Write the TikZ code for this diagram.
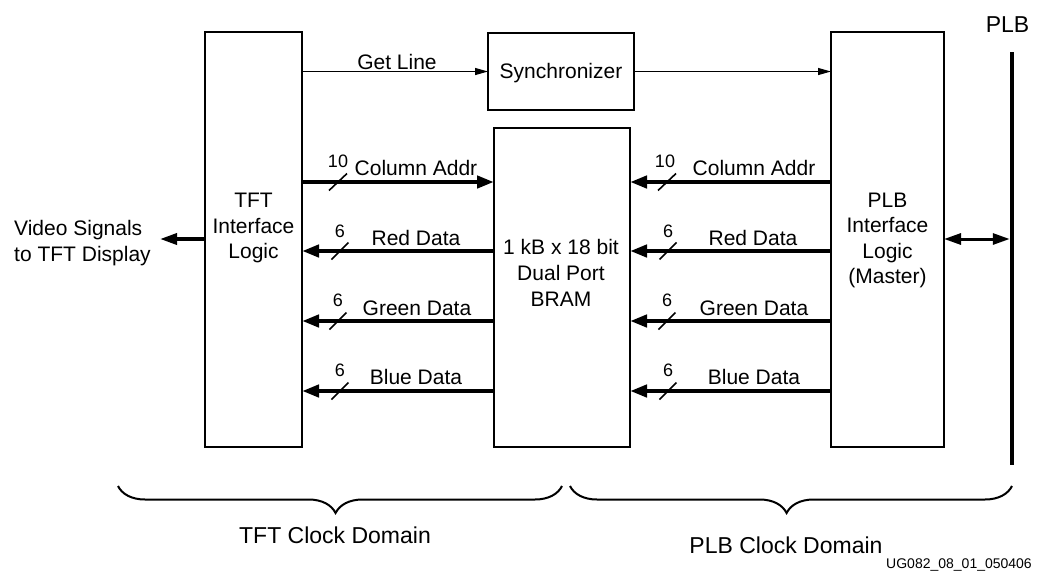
\documentclass[tikz,border=0pt]{standalone}
\usepackage{fontspec}
\setmainfont{Liberation Sans}
\usetikzlibrary{arrows.meta,decorations.pathreplacing}
\newcommand\cs{\rule[-0.25em]{0pt}{1.216em}}
\begin{document}
\begin{tikzpicture}[x=1pt,y=-1pt,
  box/.style={draw, line width=2pt, inner sep=0pt, outer sep=0pt, anchor=north west},
  txt/.style={inner sep=0pt, align=center, font=\fontsize{21}{25.6}\selectfont},
  num/.style={inner sep=0pt, font=\fontsize{18}{20}\selectfont},
  big/.style={inner sep=0pt, font=\fontsize{23}{26}\selectfont},
  tiny/.style={inner sep=0pt, font=\fontsize{14}{16}\selectfont},
  thin arrow/.style={line width=1.2pt, -{Triangle[length=13pt,width=7pt]}},
  fat arrow/.style={line width=4.2pt, -{Triangle[length=17pt,width=12pt]}},
  slashmark/.style={line width=1.6pt},
  brace/.style={line width=2pt, decorate, decoration={brace, amplitude=27pt, aspect=0.51}}
]
\useasboundingbox (0,0) rectangle (1042,574);

% boxes
\node[box, minimum width=97pt, minimum height=415pt] (tft) at (205,32) {};
\node[box, minimum width=146pt, minimum height=77pt] (sync) at (488,33) {};
\node[box, minimum width=136pt, minimum height=319pt] (bram) at (494,128) {};
\node[box, minimum width=113pt, minimum height=415pt] (plb) at (831,32) {};

% box texts
\node[txt] (tfttxt) at (253.5,225.5) {\cs TFT\\\cs Interface\\\cs Logic};
\node[txt] (synctxt) at (561,71) {\cs Synchronizer};
\node[txt] (bramtxt) at (561,273) {\cs 1 kB x 18 bit\\\cs Dual Port\\\cs BRAM};
\node[txt] (plbtxt) at (887.5,238) {\cs PLB\\\cs Interface\\\cs Logic\\\cs (Master)};
\node[txt, anchor=west, align=left] (vidtxt) at (14,241) {\cs Video Signals\\\cs to TFT Display};
\node[big] (plblabel) at (1007.5,24.5) {\cs PLB};

% bus
\coordinate (busT) at (1012,52);
\coordinate (busB) at (1012,465);
\draw[line width=4.5pt] (busT) -- (busB);

% control arrows
\draw[thin arrow] (tft.east |- sync.west) -- (sync.west);
\draw[thin arrow] (sync.east) -- (sync.east -| plb.west);
\node[txt] (getline) at (397,62) {\cs Get Line};

% column addr
\draw[fat arrow] (tft.east |- 0,182) -- (bram.west |- 0,182);
\draw[fat arrow] (plb.west |- 0,182) -- (bram.east |- 0,182);
\node[txt] (colL) at (416,168) {\cs Column Addr};
\node[txt] (colR) at (754,168) {\cs Column Addr};
\node[num] (nColL) at (338,161) {\cs 10};
\node[num] (nColR) at (665,161) {\cs 10};
\draw[slashmark] (338,182) ++(-9,8.5) -- ++(18,-17);
\draw[slashmark] (667,182) ++(-9,8.5) -- ++(18,-17);

% red
\draw[fat arrow] (bram.west |- 0,251) -- (tft.east |- 0,251);
\draw[fat arrow] (plb.west |- 0,251) -- (bram.east |- 0,251);
\node[txt] (redL) at (416,238) {\cs Red Data};
\node[txt] (redR) at (753,238) {\cs Red Data};
\node[num] (nRedL) at (340,231) {\cs 6};
\node[num] (nRedR) at (668,231) {\cs 6};
\draw[slashmark] (340,251) ++(-8.5,8.5) -- ++(17,-17);
\draw[slashmark] (668,251) ++(-8.5,8.5) -- ++(17,-17);

% green
\draw[fat arrow] (bram.west |- 0,321) -- (tft.east |- 0,321);
\draw[fat arrow] (plb.west |- 0,321) -- (bram.east |- 0,321);
\node[txt] (greenL) at (417,308) {\cs Green Data};
\node[txt] (greenR) at (754,308) {\cs Green Data};
\node[num] (nGreenL) at (338,300) {\cs 6};
\node[num] (nGreenR) at (667,300) {\cs 6};
\draw[slashmark] (338,321) ++(-8.5,8.5) -- ++(17,-17);
\draw[slashmark] (667,321) ++(-8.5,8.5) -- ++(17,-17);

% blue
\draw[fat arrow] (bram.west |- 0,391) -- (tft.east |- 0,391);
\draw[fat arrow] (plb.west |- 0,391) -- (bram.east |- 0,391);
\node[txt] (blueL) at (416,377) {\cs Blue Data};
\node[txt] (blueR) at (754,377) {\cs Blue Data};
\node[num] (nBlueL) at (340,370) {\cs 6};
\node[num] (nBlueR) at (668,370) {\cs 6};
\draw[slashmark] (340,391) ++(-8.5,8.5) -- ++(17,-17);
\draw[slashmark] (668,391) ++(-8.5,8.5) -- ++(17,-17);

% video out
\coordinate (vid) at (160,239);
\draw[line width=3.5pt, -{Triangle[length=17pt,width=11pt]}] (tft.west |- vid) -- (vid);

% PLB bus connection
\draw[line width=3pt, shorten >=2.25pt, {Triangle[length=17pt,width=11pt]}-{Triangle[length=17pt,width=11pt]}] (plb.east |- 0,239) -- (busT |- 0,239);

% braces
\coordinate (b1s) at (562,486);
\coordinate (b1e) at (118,486);
\coordinate (b2s) at (1012,486);
\coordinate (b2e) at (570,486);
\draw[brace] (b1s) -- (b1e);
\draw[brace] (b2s) -- (b2e);
\node[big] (tftdom) at (335,535) {\cs TFT Clock Domain};
\node[big] (plbdom) at (786,545) {\cs PLB Clock Domain};
\node[tiny, anchor=east] (ug) at (1032,563) {\cs UG082\_08\_01\_050406};
\end{tikzpicture}
\end{document}
